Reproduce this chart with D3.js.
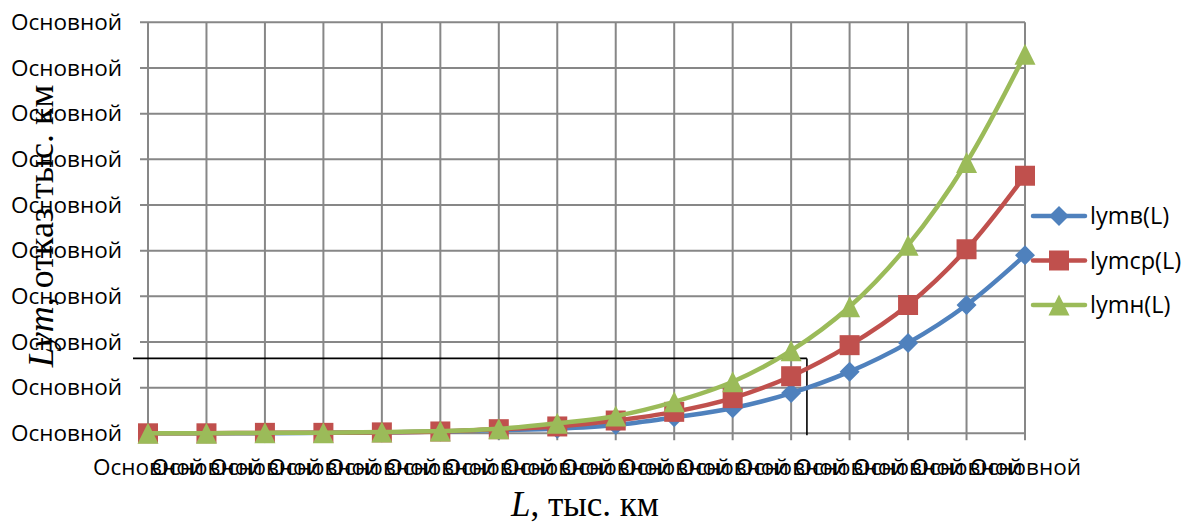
<!DOCTYPE html>
<html>
<head>
<meta charset="utf-8">
<script src="https://cdn.jsdelivr.net/npm/d3@7"></script>
<style>
  html, body { margin: 0; padding: 0; background: #ffffff; }
  svg { display: block; }
</style>
</head>
<body>
<svg id="chart" width="1185" height="524"></svg>
<script>
// Category labels along L (one per point)
const xLabels = ["Основной", "Основной", "Основной", "Основной", "Основной", "Основной", "Основной", "Основной",
                 "Основной", "Основной", "Основной", "Основной", "Основной", "Основной", "Основной", "Основной"];
// Value-axis tick positions and their labels
const yTicks = [0, 1, 2, 3, 4, 5, 6, 7, 8, 9];
const yLabels = ["Основной", "Основной", "Основной", "Основной", "Основной",
                 "Основной", "Основной", "Основной", "Основной", "Основной"];

// Series values
const lymV  = [0.00, 0.00, 0.00, 0.01, 0.02, 0.04, 0.07, 0.10, 0.18, 0.35, 0.55, 0.88, 1.35, 1.98, 2.81, 3.90];
const lymSr = [0.00, 0.00, 0.01, 0.01, 0.02, 0.04, 0.09, 0.15, 0.28, 0.47, 0.77, 1.25, 1.93, 2.81, 4.03, 5.64];
const lymN  = [0.00, 0.00, 0.01, 0.01, 0.03, 0.05, 0.10, 0.22, 0.38, 0.69, 1.13, 1.81, 2.77, 4.12, 5.93, 8.30];
const seriesNames = ["lymв(L)", "lymср(L)", "lymн(L)"];

// Reference level: value and L position
const refLevel = [1.64];
const refL = [11.27];

const W = 1185, H = 524;
const plot = { left: 148, right: 1025, top: 22.3, bottom: 433.3 };
const colors = ["#4F81BD", "#C0504D", "#9BBB59"];
const gridColor = "#878787";
const tickFont = "'Open Sans', 'Noto Sans', sans-serif";
const tickSize = 22.5;

const svg = d3.select("#chart");
svg.append("rect").attr("width", W).attr("height", H).attr("fill", "#ffffff");

const x = d3.scaleLinear().domain([0, xLabels.length - 1]).range([plot.left, plot.right]);
const y = d3.scaleLinear().domain([0, 9]).range([plot.bottom, plot.top]);

// Grid
const grid = svg.append("g").attr("stroke", gridColor).attr("stroke-width", 2);
grid.selectAll("line.h").data(yTicks).join("line")
  .attr("class", "h")
  .attr("x1", plot.left - 8).attr("x2", plot.right)
  .attr("y1", d => y(d)).attr("y2", d => y(d));
grid.selectAll("line.v").data(d3.range(xLabels.length)).join("line")
  .attr("class", "v")
  .attr("x1", d => x(d)).attr("x2", d => x(d))
  .attr("y1", plot.top).attr("y2", plot.bottom + 7);

// Value axis labels
const yAxis = d3.axisLeft(y).tickValues(yTicks).tickSize(0).tickPadding(26)
  .tickFormat((d, i) => yLabels[i]);
const gy = svg.append("g").attr("transform", `translate(${plot.left},0)`).call(yAxis);
gy.select(".domain").remove();
gy.selectAll("text")
  .attr("font-family", tickFont).attr("font-size", tickSize).attr("fill", "#000");

// Category axis labels
const xAxis = d3.axisBottom(x).tickValues(d3.range(xLabels.length)).tickSize(0).tickPadding(26)
  .tickFormat((d, i) => xLabels[i]);
const gx = svg.append("g").attr("transform", `translate(0,${plot.bottom})`).call(xAxis);
gx.select(".domain").remove();
gx.selectAll("text")
  .attr("font-family", tickFont).attr("font-size", tickSize).attr("fill", "#000");

// Reference lines
const ref = svg.append("g").attr("stroke", "#000").attr("stroke-width", 1.6).attr("fill", "none");
ref.append("line")
  .attr("x1", plot.left - 15).attr("x2", x(refL[0]))
  .attr("y1", y(refLevel[0])).attr("y2", y(refLevel[0]));
ref.append("line")
  .attr("x1", x(refL[0])).attr("x2", x(refL[0]))
  .attr("y1", y(refLevel[0])).attr("y2", plot.bottom + 2);

// Marker shapes centred on their bounding box
function markerPath(kind) {
  if (kind === 0) { const r = 10; return `M0,${-r}L${r},0L0,${r}L${-r},0Z`; }
  if (kind === 1) { const r = 10; return `M${-r},${-r}H${r}V${r}H${-r}Z`; }
  const w = 10.5, h = 10.5; return `M0,${-h}L${w},${h}L${-w},${h}Z`;
}

const series = [lymV, lymSr, lymN];
const line = d3.line()
  .x((d, i) => x(i)).y(d => y(d))
  .curve(d3.curveCatmullRom.alpha(0.5));

series.forEach((vals, k) => {
  const g = svg.append("g");
  g.append("path").datum(vals)
    .attr("d", line)
    .attr("fill", "none")
    .attr("stroke", colors[k])
    .attr("stroke-width", 4.5)
    .attr("stroke-linejoin", "round")
    .attr("stroke-linecap", "round");
  g.selectAll("path.m").data(vals).join("path")
    .attr("class", "m")
    .attr("d", markerPath(k))
    .attr("transform", (d, i) => `translate(${x(i)},${y(d)})`)
    .attr("fill", colors[k]);
});

// Legend
const legendY = [216, 260.5, 305];
const leg = svg.append("g");
seriesNames.forEach((name, k) => {
  const g = leg.append("g").attr("transform", `translate(0,${legendY[k]})`);
  g.append("line").attr("x1", 1033).attr("x2", 1085).attr("y1", 0).attr("y2", 0)
    .attr("stroke", colors[k]).attr("stroke-width", 4.5).attr("stroke-linecap", "round");
  g.append("path").attr("d", markerPath(k)).attr("transform", "translate(1059,0)").attr("fill", colors[k]);
  g.append("text").attr("x", 1090).attr("y", 8)
    .attr("font-family", tickFont).attr("font-size", 23.5).attr("fill", "#000")
    .text(name);
});

// Axis titles
const xt = svg.append("text").attr("x", 585).attr("y", 516)
  .attr("text-anchor", "middle")
  .attr("font-family", "'Liberation Serif', 'Times New Roman', serif")
  .attr("font-size", 35).attr("fill", "#000");
xt.append("tspan").attr("font-style", "italic").text("L");
xt.append("tspan").text(", тыс. км");

const yt = svg.append("text")
  .attr("transform", "translate(53,226) rotate(-90)")
  .attr("text-anchor", "middle")
  .attr("font-family", "'Liberation Serif', 'Times New Roman', serif")
  .attr("font-size", 36).attr("fill", "#000");
yt.append("tspan").attr("font-style", "italic").text("Lym,");
yt.append("tspan").text(" отказ тыс. км");
</script>
</body>
</html>
